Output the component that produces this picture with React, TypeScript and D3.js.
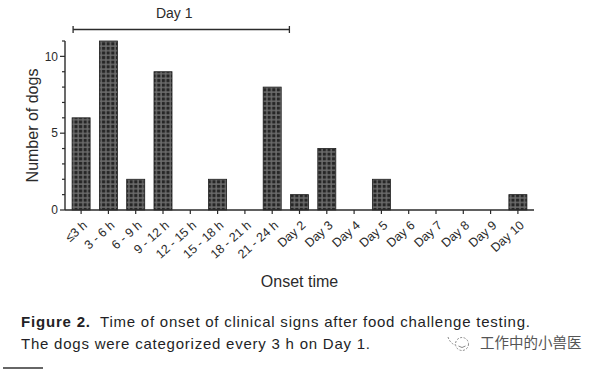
import React, { useEffect, useRef } from "react";
import * as d3 from "d3";

// categories on the x axis
const categories = [
  "≤3 h", "3 - 6 h", "6 - 9 h", "9 - 12 h", "12 - 15 h", "15 - 18 h",
  "18 - 21 h", "21 - 24 h", "Day 2", "Day 3", "Day 4", "Day 5",
  "Day 6", "Day 7", "Day 8", "Day 9", "Day 10",
];
// number of dogs per onset bin
const dogCounts = [6, 11, 2, 9, 0, 2, 0, 8, 1, 4, 0, 2, 0, 0, 0, 0, 1];
const yMajorTicks = [0, 5, 10];
const yMinorTicks = d3.range(0, 12);
const bracketLabel = "Day 1";
const bracketFrom = "≤3 h";
const bracketTo = "21 - 24 h";

const captionBold = "Figure 2.";
const captionLine1 = "Time of onset of clinical signs after food challenge testing.";
const captionLine2 = "The dogs were categorized every 3  h on Day 1.";
const watermark = "工作中的小兽医";

const App = () => {
  const svgRef = useRef<SVGSVGElement>(null);

  useEffect(() => {
    const svg = d3.select(svgRef.current);
    svg.selectAll("*").remove();

    const font = "'Liberation Sans', Arial, sans-serif";
    const ink = "#2b2b2b";

    // plot area
    const left = 65, right = 534, top = 41, bottom = 210;

    const x = d3
      .scaleBand()
      .domain(categories)
      .range([left, right])
      .paddingInner(0.34)
      .paddingOuter(0.26);

    const y = d3.scaleLinear().domain([0, 11]).range([bottom, top]);

    const barData = categories
      .map((c, i) => ({ cat: c, value: dogCounts[i] }))
      .filter((d) => d.value > 0);

    // bar fill pattern (dark checkered)
    const defs = svg.append("defs");
    const pat = defs
      .append("pattern")
      .attr("id", "grid")
      .attr("patternUnits", "userSpaceOnUse")
      .attr("width", 4.6)
      .attr("height", 4.6);
    pat.append("rect").attr("width", 4.6).attr("height", 4.6).attr("fill", "#6e6e6e");
    pat.append("rect").attr("x", 0.8).attr("y", 0.8).attr("width", 3.2).attr("height", 3.2).attr("fill", "#262626");

    // bars
    svg
      .append("g")
      .selectAll("rect")
      .data(barData)
      .join("rect")
      .attr("x", (d) => x(d.cat))
      .attr("y", (d) => y(d.value))
      .attr("width", x.bandwidth())
      .attr("height", (d) => y(0) - y(d.value))
      .attr("fill", "url(#grid)")
      .attr("stroke", "#1e1e1e")
      .attr("stroke-width", 0.8);

    // y axis
    const yAxis = svg.append("g");
    yAxis
      .append("line")
      .attr("x1", left).attr("x2", left)
      .attr("y1", y(11)).attr("y2", y(0))
      .attr("stroke", ink).attr("stroke-width", 1.4);
    yAxis
      .selectAll(".minor")
      .data(yMinorTicks)
      .join("line")
      .attr("x1", (d) => (d % 5 === 0 ? left - 5 : left - 3))
      .attr("x2", left)
      .attr("y1", (d) => y(d))
      .attr("y2", (d) => y(d))
      .attr("stroke", ink)
      .attr("stroke-width", 1.2);
    yAxis
      .selectAll("text")
      .data(yMajorTicks)
      .join("text")
      .attr("x", left - 7)
      .attr("y", (d) => y(d))
      .attr("dy", "0.35em")
      .attr("text-anchor", "end")
      .attr("font-family", font)
      .attr("font-size", 12)
      .attr("fill", ink)
      .text((d) => d);

    // x axis
    const xAxis = svg.append("g");
    xAxis
      .append("line")
      .attr("x1", left).attr("x2", right)
      .attr("y1", bottom).attr("y2", bottom)
      .attr("stroke", ink).attr("stroke-width", 1.4);
    xAxis
      .selectAll(".tick")
      .data(categories)
      .join("line")
      .attr("x1", (d) => x(d) + x.bandwidth() / 2)
      .attr("x2", (d) => x(d) + x.bandwidth() / 2)
      .attr("y1", bottom)
      .attr("y2", bottom + 4)
      .attr("stroke", ink)
      .attr("stroke-width", 1.2);
    xAxis
      .selectAll("text")
      .data(categories)
      .join("text")
      .attr("transform", (d) => `translate(${x(d) + x.bandwidth() / 2 + 4}, ${bottom + 13}) rotate(-42)`)
      .attr("text-anchor", "end")
      .attr("dy", "0.35em")
      .attr("font-family", font)
      .attr("font-size", 12.5)
      .attr("fill", ink)
      .text((d) => d);

    // axis titles
    svg
      .append("text")
      .attr("x", (left + right) / 2)
      .attr("y", 287)
      .attr("text-anchor", "middle")
      .attr("font-family", font)
      .attr("font-size", 16)
      .attr("fill", ink)
      .text("Onset time");
    svg
      .append("text")
      .attr("transform", `translate(38, ${(top + bottom) / 2}) rotate(-90)`)
      .attr("text-anchor", "middle")
      .attr("font-family", font)
      .attr("font-size", 16)
      .attr("fill", ink)
      .text("Number of dogs");

    // Day 1 bracket
    const bx1 = x(bracketFrom) + 1;
    const bx2 = x(bracketTo) + x.bandwidth() + x.step() * 0.3;
    const by = 29.5;
    const br = svg.append("g").attr("stroke", ink).attr("stroke-width", 1.3);
    br.append("line").attr("x1", bx1).attr("x2", bx2).attr("y1", by).attr("y2", by);
    br.append("line").attr("x1", bx1).attr("x2", bx1).attr("y1", by - 3.5).attr("y2", by + 3.5);
    br.append("line").attr("x1", bx2).attr("x2", bx2).attr("y1", by - 3.5).attr("y2", by + 3.5);
    svg
      .append("text")
      .attr("x", (bx1 + bx2) / 2 - 7)
      .attr("y", 18)
      .attr("text-anchor", "middle")
      .attr("font-family", font)
      .attr("font-size", 14)
      .attr("fill", ink)
      .text(bracketLabel);

    // caption
    const capColor = "#231f26";
    svg
      .append("text")
      .attr("x", 21)
      .attr("y", 327)
      .attr("font-family", font)
      .attr("font-size", 15)
      .attr("font-weight", "bold")
      .attr("fill", capColor)
      .attr("textLength", 69)
      .attr("lengthAdjust", "spacing")
      .text(captionBold);
    svg
      .append("text")
      .attr("x", 100)
      .attr("y", 327)
      .attr("font-family", font)
      .attr("font-size", 15)
      .attr("fill", capColor)
      .attr("textLength", 430)
      .attr("lengthAdjust", "spacing")
      .text(captionLine1);
    svg
      .append("text")
      .attr("x", 21)
      .attr("y", 349)
      .attr("font-family", font)
      .attr("font-size", 15)
      .attr("fill", capColor)
      .attr("textLength", 349)
      .attr("lengthAdjust", "spacing")
      .text(captionLine2);

    // watermark
    const wm = svg.append("g").attr("stroke", "#8a8a8a").attr("fill", "none").attr("stroke-width", 1);
    wm.append("circle").attr("cx", 462).attr("cy", 344).attr("r", 6.5).attr("stroke-dasharray", "2 1.5");
    wm.append("path").attr("d", "M458.5,346 Q462,349 465.5,346");
    wm.append("path").attr("d", "M448,337 Q450,343 455,345").attr("stroke-dasharray", "2 1.5");
    svg
      .append("text")
      .attr("x", 480)
      .attr("y", 348)
      .attr("font-family", "'Noto Sans CJK SC', sans-serif")
      .attr("font-size", 14.5)
      .attr("fill", "#555")
      .text(watermark);

    // short rule bottom-left
    svg
      .append("line")
      .attr("x1", 3).attr("x2", 43)
      .attr("y1", 368).attr("y2", 368)
      .attr("stroke", "#333").attr("stroke-width", 1.5);
  }, []);

  return (
    <div style={{ position: "absolute", left: 0, top: 0 }}>
      <svg ref={svgRef} width={600} height={369} style={{ background: "#fff", display: "block" }}></svg>
    </div>
  );
};

export default App;
